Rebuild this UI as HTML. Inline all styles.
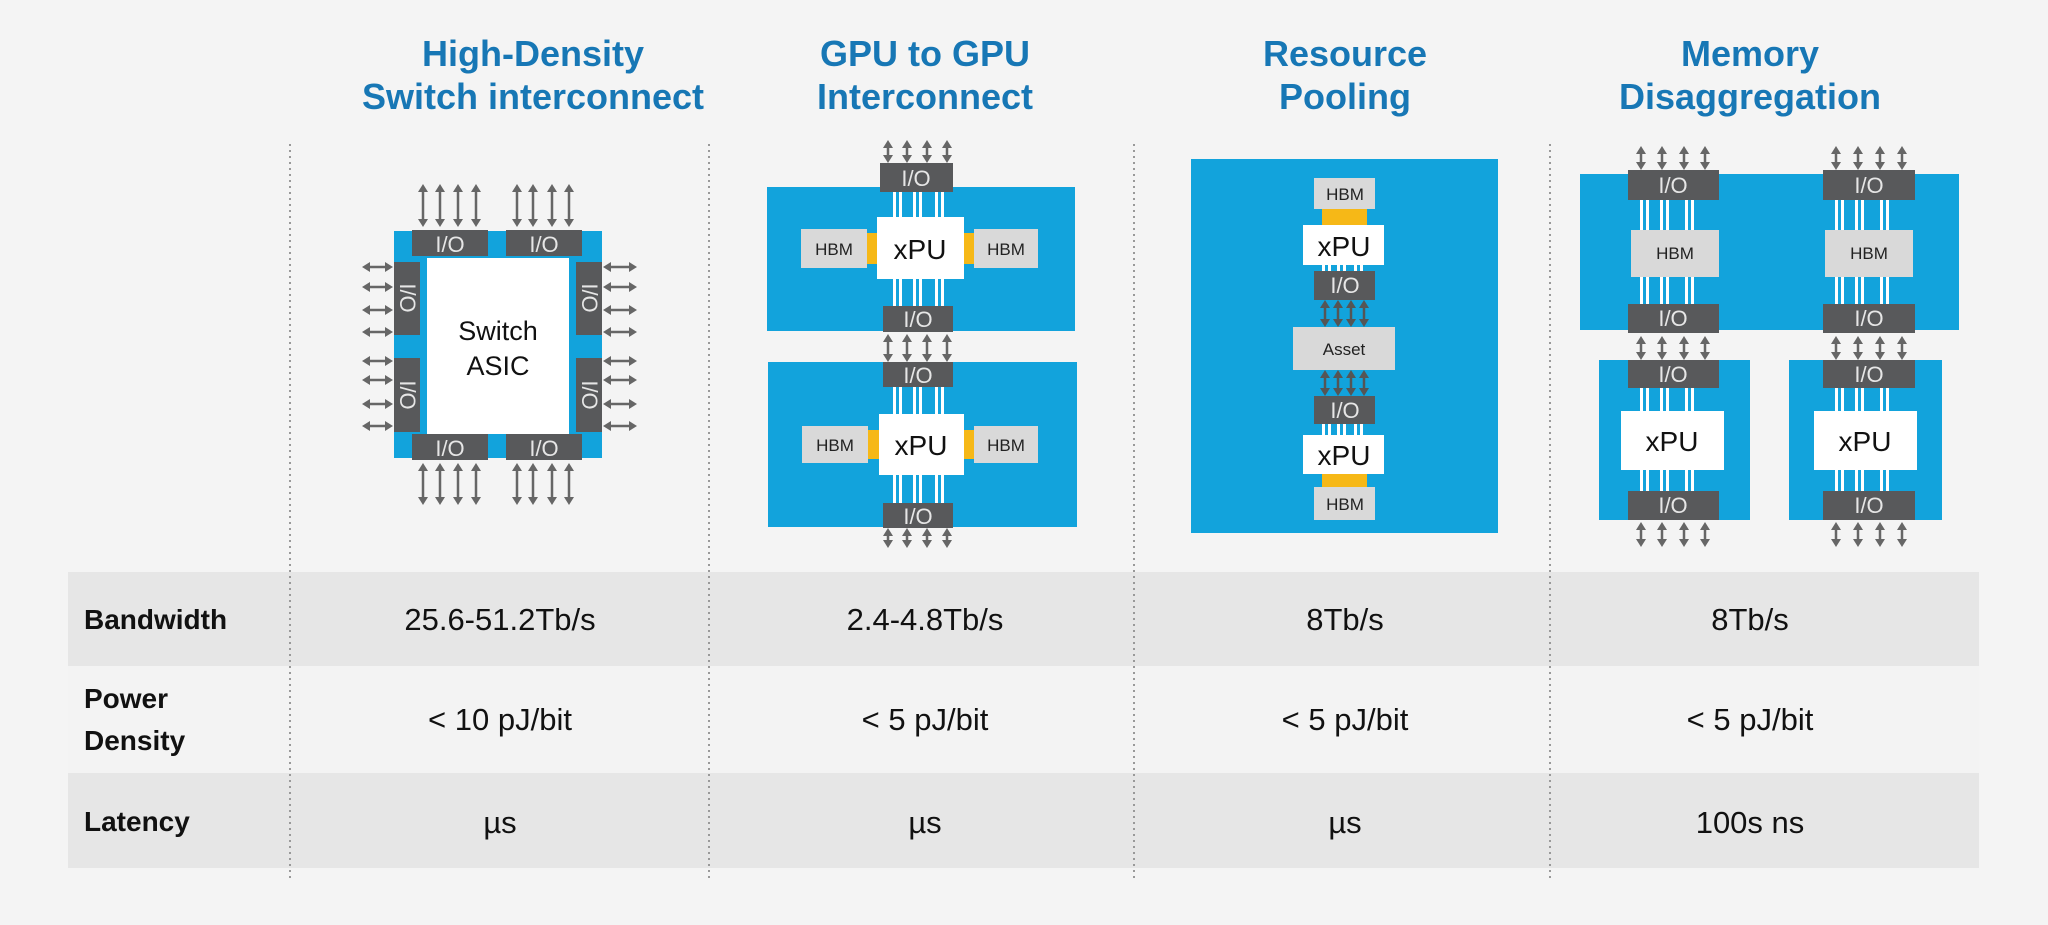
<!DOCTYPE html>
<html><head><meta charset="utf-8"><style>
html,body{margin:0;padding:0;background:#f4f4f4;}
svg{display:block;font-family:"Liberation Sans",Arial,sans-serif;}
.t{font-weight:bold;font-size:36px;fill:#1777b5;text-anchor:middle}
.l{font-weight:bold;font-size:28px;fill:#111}
.v{font-size:31px;fill:#111;text-anchor:middle}
.io{font-size:22px;fill:#e6e6e6;text-anchor:middle}
.hb{font-size:17px;fill:#222;text-anchor:middle}
.xp{font-size:28px;fill:#111;text-anchor:middle}
</style></head><body>
<svg id="s" width="2048" height="925" viewBox="0 0 2048 925" xmlns="http://www.w3.org/2000/svg">
<rect width="2048" height="925" fill="#f4f4f4"/>
<!-- table -->
<rect x="68" y="572" width="1911" height="94" fill="#e6e6e6"/>
<rect x="68" y="666" width="1911" height="107" fill="#f3f3f3"/>
<rect x="68" y="773" width="1911" height="95" fill="#e6e6e6"/>
<g id="dots"></g>
<!-- titles -->
<text class="t" x="533" y="66">High-Density</text>
<text class="t" x="533" y="109">Switch interconnect</text>
<text class="t" x="925" y="66">GPU to GPU</text>
<text class="t" x="925" y="109">Interconnect</text>
<text class="t" x="1345" y="66">Resource</text>
<text class="t" x="1345" y="109">Pooling</text>
<text class="t" x="1750" y="66">Memory</text>
<text class="t" x="1750" y="109">Disaggregation</text>
<!-- labels -->
<text class="l" x="84" y="629">Bandwidth</text>
<text class="l" x="84" y="708">Power</text>
<text class="l" x="84" y="750">Density</text>
<text class="l" x="84" y="831">Latency</text>
<text class="v" x="500" y="630">25.6-51.2Tb/s</text>
<text class="v" x="925" y="630">2.4-4.8Tb/s</text>
<text class="v" x="1345" y="630">8Tb/s</text>
<text class="v" x="1750" y="630">8Tb/s</text>
<text class="v" x="500" y="730">&lt; 10 pJ/bit</text>
<text class="v" x="925" y="730">&lt; 5 pJ/bit</text>
<text class="v" x="1345" y="730">&lt; 5 pJ/bit</text>
<text class="v" x="1750" y="730">&lt; 5 pJ/bit</text>
<text class="v" x="500" y="833">µs</text>
<text class="v" x="925" y="833">µs</text>
<text class="v" x="1345" y="833">µs</text>
<text class="v" x="1750" y="833">100s ns</text>

<!-- Switch -->
<rect x="394" y="231" width="208" height="227" fill="#12a3dc"/>
<rect x="427" y="258" width="142" height="176" fill="#fff"/>
<rect x="412" y="230" width="76" height="26" fill="#58595b"/><text class="io" x="450" y="252">I/O</text>
<rect x="506" y="230" width="76" height="26" fill="#58595b"/><text class="io" x="544" y="252">I/O</text>
<rect x="412" y="434" width="76" height="26" fill="#58595b"/><text class="io" x="450" y="456">I/O</text>
<rect x="506" y="434" width="76" height="26" fill="#58595b"/><text class="io" x="544" y="456">I/O</text>
<rect x="394" y="262" width="26" height="73" fill="#58595b"/><text class="io" transform="translate(400,298) rotate(90)">I/O</text>
<rect x="394" y="358" width="26" height="74" fill="#58595b"/><text class="io" transform="translate(400,395) rotate(90)">I/O</text>
<rect x="576" y="262" width="26" height="73" fill="#58595b"/><text class="io" transform="translate(582,298) rotate(90)">I/O</text>
<rect x="576" y="358" width="26" height="74" fill="#58595b"/><text class="io" transform="translate(582,395) rotate(90)">I/O</text>
<text class="xp" x="498" y="340" style="font-size:27px">Switch</text>
<text class="xp" x="498" y="375" style="font-size:27px">ASIC</text>

<!-- GPU to GPU -->
<rect x="767" y="187" width="308" height="144" fill="#12a3dc"/>
<rect x="768" y="362" width="309" height="165" fill="#12a3dc"/>
<g id="g2"></g>
<rect x="880" y="163" width="73" height="29" fill="#58595b"/><text class="io" x="916" y="186">I/O</text>
<rect x="877" y="217" width="87" height="62" fill="#fff"/><text class="xp" x="920" y="259">xPU</text>
<rect x="801" y="229" width="66" height="39" fill="#d9d9d9"/><text class="hb" x="834" y="255">HBM</text>
<rect x="867" y="233" width="10" height="31" fill="#f6b817"/>
<rect x="964" y="233" width="10" height="31" fill="#f6b817"/>
<rect x="974" y="229" width="64" height="39" fill="#d9d9d9"/><text class="hb" x="1006" y="255">HBM</text>
<rect x="883" y="306" width="70" height="26" fill="#58595b"/><text class="io" x="918" y="327">I/O</text>
<rect x="883" y="362" width="70" height="25" fill="#58595b"/><text class="io" x="918" y="383">I/O</text>
<rect x="879" y="414" width="85" height="61" fill="#fff"/><text class="xp" x="921" y="455">xPU</text>
<rect x="802" y="426" width="66" height="37" fill="#d9d9d9"/><text class="hb" x="835" y="451">HBM</text>
<rect x="868" y="430" width="11" height="29" fill="#f6b817"/>
<rect x="964" y="430" width="10" height="29" fill="#f6b817"/>
<rect x="974" y="426" width="64" height="37" fill="#d9d9d9"/><text class="hb" x="1006" y="451">HBM</text>
<rect x="883" y="503" width="70" height="25" fill="#58595b"/><text class="io" x="918" y="524">I/O</text>

<!-- Resource Pooling -->
<rect x="1191" y="159" width="307" height="374" fill="#12a3dc"/>
<g id="g3"></g>
<rect x="1314" y="178" width="61" height="31" fill="#d9d9d9"/><text class="hb" x="1345" y="200">HBM</text>
<rect x="1322" y="209" width="45" height="16" fill="#f6b817"/>
<rect x="1303" y="225" width="81" height="40" fill="#fff"/><text class="xp" x="1344" y="256">xPU</text>
<rect x="1314" y="271" width="61" height="29" fill="#58595b"/><text class="io" x="1345" y="293">I/O</text>
<rect x="1293" y="327" width="102" height="43" fill="#d9d9d9"/><text class="hb" x="1344" y="355">Asset</text>
<rect x="1314" y="396" width="61" height="28" fill="#58595b"/><text class="io" x="1345" y="418">I/O</text>
<rect x="1303" y="435" width="81" height="39" fill="#fff"/><text class="xp" x="1344" y="465">xPU</text>
<rect x="1322" y="474" width="45" height="13" fill="#f6b817"/>
<rect x="1314" y="487" width="61" height="33" fill="#d9d9d9"/><text class="hb" x="1345" y="510">HBM</text>

<!-- Memory disaggregation -->
<rect x="1580" y="174" width="379" height="156" fill="#12a3dc"/>
<rect x="1599" y="360" width="151" height="160" fill="#12a3dc"/>
<rect x="1789" y="360" width="153" height="160" fill="#12a3dc"/>
<g id="g4"></g>
<rect x="1628" y="170" width="91" height="30" fill="#58595b"/><text class="io" x="1673" y="193">I/O</text>
<rect x="1823" y="170" width="92" height="30" fill="#58595b"/><text class="io" x="1869" y="193">I/O</text>
<rect x="1631" y="230" width="88" height="47" fill="#d9d9d9"/><text class="hb" x="1675" y="259">HBM</text>
<rect x="1825" y="230" width="88" height="47" fill="#d9d9d9"/><text class="hb" x="1869" y="259">HBM</text>
<rect x="1628" y="304" width="91" height="29" fill="#58595b"/><text class="io" x="1673" y="326">I/O</text>
<rect x="1823" y="304" width="92" height="29" fill="#58595b"/><text class="io" x="1869" y="326">I/O</text>
<rect x="1628" y="360" width="91" height="28" fill="#58595b"/><text class="io" x="1673" y="382">I/O</text>
<rect x="1823" y="360" width="92" height="28" fill="#58595b"/><text class="io" x="1869" y="382">I/O</text>
<rect x="1621" y="411" width="103" height="59" fill="#fff"/><text class="xp" x="1672" y="451">xPU</text>
<rect x="1814" y="411" width="103" height="59" fill="#fff"/><text class="xp" x="1865" y="451">xPU</text>
<rect x="1628" y="491" width="91" height="29" fill="#58595b"/><text class="io" x="1673" y="513">I/O</text>
<rect x="1823" y="491" width="92" height="29" fill="#58595b"/><text class="io" x="1869" y="513">I/O</text>
<g id="arr"></g>
</svg>
<script>
var NS="http://www.w3.org/2000/svg";
function el(p,t,a){var e=document.createElementNS(NS,t);for(var k in a)e.setAttribute(k,a[k]);document.getElementById(p).appendChild(e);}
// dotted dividers
[290,709,1134,1550].forEach(function(x){el("dots","line",{x1:x,y1:144,x2:x,y2:878,stroke:"#999","stroke-width":2,"stroke-dasharray":"2 4"});});
function va(x,y1,y2,c){c=c||"#666";el("arr","line",{x1:x,y1:y1+6,x2:x,y2:y2-6,stroke:c,"stroke-width":2.5});
el("arr","polygon",{points:(x-5)+","+(y1+8)+" "+x+","+y1+" "+(x+5)+","+(y1+8),fill:c});
el("arr","polygon",{points:(x-5)+","+(y2-8)+" "+x+","+y2+" "+(x+5)+","+(y2-8),fill:c});}
function ha(y,x1,x2){var c="#666";el("arr","line",{x1:x1+6,y1:y,x2:x2-6,y2:y,stroke:c,"stroke-width":2.5});
el("arr","polygon",{points:(x1+8)+","+(y-5)+" "+x1+","+y+" "+(x1+8)+","+(y+5),fill:c});
el("arr","polygon",{points:(x2-8)+","+(y-5)+" "+x2+","+y+" "+(x2-8)+","+(y+5),fill:c});}
[423,440,458,476,517,533,552,569].forEach(function(x){va(x,184,227);va(x,463,505);});
[267,287,310,332,361,380,404,426].forEach(function(y){ha(y,362,393);ha(y,603,637);});
[888,907,927,947].forEach(function(x){va(x,140,163);va(x,334,362);va(x,528,548);});
[1325,1338,1351,1364].forEach(function(x){va(x,300,327,"#555");va(x,370,396,"#555");});
[1641,1662,1684,1705,1836,1858,1880,1902].forEach(function(x){va(x,146,170);va(x,336,360);va(x,522,547);});
function wl(g,xs,y1,y2){xs.forEach(function(x){el(g,"rect",{x:x,y:y1,width:3,height:y2-y1,fill:"#fff"});el(g,"rect",{x:x+6,y:y1,width:3,height:y2-y1,fill:"#fff"});});}
wl("g2",[893,913,935],192,217);wl("g2",[893,913,935],279,306);
wl("g2",[893,913,935],387,414);wl("g2",[893,913,935],475,503);
wl("g3",[1322,1337,1354],265,271);wl("g3",[1322,1337,1354],424,435);
[[1640,1660,1685],[1835,1855,1880]].forEach(function(xs){wl("g4",xs,200,230);wl("g4",xs,277,304);wl("g4",xs,388,411);wl("g4",xs,470,491);});
</script>
</body></html>
